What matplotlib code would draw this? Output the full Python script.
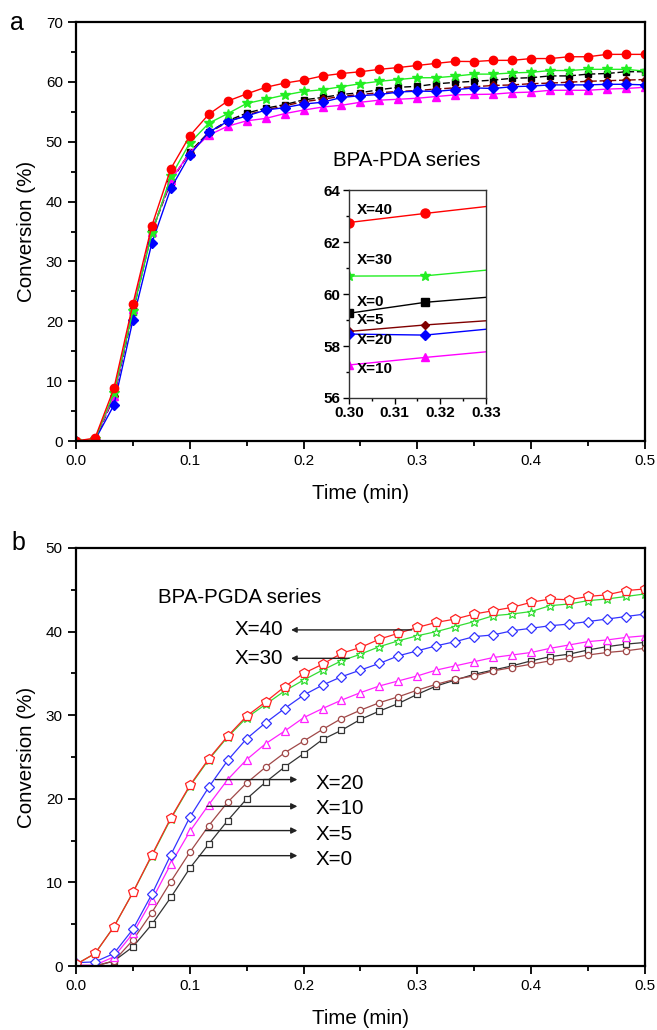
import matplotlib
matplotlib.use("Agg")
import matplotlib.pyplot as plt
from matplotlib.ticker import MultipleLocator

plt.rcParams['font.family'] = ['Liberation Sans', 'DejaVu Sans']

# ---------------- data ----------------
time_min = [0.0, 0.0167, 0.0333, 0.05, 0.0667, 0.0833, 0.1, 0.1167, 0.1333, 0.15,
            0.1667, 0.1833, 0.2, 0.2167, 0.2333, 0.25, 0.2667, 0.2833, 0.3, 0.3167,
            0.3333, 0.35, 0.3667, 0.3833, 0.4, 0.4167, 0.4333, 0.45, 0.4667, 0.4833, 0.5]

# (a) BPA-PDA series
pda_labels = ['X=0', 'X=5', 'X=10', 'X=20', 'X=30', 'X=40']
pda_x0 = [0, 0.2, 7.3, 21.5, 35.0, 43.3, 48.3, 51.6, 53.5, 54.8, 55.6, 56.2, 57.0, 57.4, 57.9,
          58.2, 58.7, 59.1, 59.26, 59.68, 59.92, 60.1, 60.3, 60.6, 60.7, 61.0, 61.0, 61.3, 61.4, 61.7, 61.7]
pda_x5 = [0, 0.2, 7.5, 22.0, 35.2, 43.5, 48.2, 51.5, 53.3, 54.5, 55.3, 56.0, 56.7, 57.1, 57.6,
          57.9, 58.2, 58.4, 58.56, 58.81, 59.01, 59.2, 59.4, 59.5, 59.7, 59.8, 59.95, 60.1, 60.2, 60.3, 60.4]
pda_x10 = [0, 0.3, 7.5, 22.0, 35.0, 43.6, 48.2, 51.1, 52.6, 53.5, 53.9, 54.7, 55.3, 55.8, 56.1,
           56.6, 56.95, 57.1, 57.27, 57.56, 57.83, 57.9, 57.95, 58.2, 58.3, 58.6, 58.6, 58.6, 58.8, 58.9, 59.1]
pda_x20 = [0, 0.2, 6.0, 20.2, 33.1, 42.2, 47.8, 51.6, 53.4, 54.3, 55.3, 55.7, 56.3, 56.6, 57.4,
           57.7, 57.9, 58.3, 58.46, 58.42, 58.7, 59.0, 58.9, 59.2, 59.3, 59.5, 59.5, 59.5, 59.6, 59.6, 59.5]
pda_x30 = [0, 0.3, 8.0, 21.7, 34.7, 44.2, 49.8, 53.1, 54.7, 56.4, 57.1, 57.8, 58.4, 58.7, 59.2,
           59.7, 60.1, 60.4, 60.69, 60.7, 60.97, 61.3, 61.3, 61.5, 61.6, 61.9, 61.9, 62.1, 62.1, 62.1, 61.8]
pda_x40 = [0, 0.5, 8.8, 22.9, 36.0, 45.5, 51.0, 54.6, 56.8, 58.0, 59.1, 59.8, 60.3, 61.0, 61.4,
           61.7, 62.1, 62.4, 62.75, 63.1, 63.43, 63.4, 63.6, 63.6, 63.9, 63.9, 64.2, 64.2, 64.6, 64.6, 64.6]

# (b) BPA-PGDA series
pgda_labels = ['X=0', 'X=5', 'X=10', 'X=20', 'X=30', 'X=40']
pgda_x0 = [0, 0, 0.6, 2.3, 5.0, 8.2, 11.7, 14.6, 17.4, 20.0, 22.0, 23.8, 25.4, 27.1, 28.2,
           29.5, 30.5, 31.4, 32.5, 33.5, 34.2, 34.9, 35.4, 35.9, 36.5, 37.0, 37.3, 37.8, 38.2, 38.5, 38.7]
pgda_x5 = [0, 0, 0.6, 3.1, 6.4, 10.1, 13.6, 16.8, 19.6, 21.9, 23.8, 25.5, 26.9, 28.3, 29.6,
           30.6, 31.5, 32.2, 33.0, 33.7, 34.3, 34.7, 35.3, 35.7, 36.1, 36.5, 36.8, 37.2, 37.5, 37.7, 38.0]
pgda_x10 = [0.1, 0.1, 1.1, 3.9, 7.9, 12.2, 16.1, 19.3, 22.3, 24.7, 26.6, 28.1, 29.7, 30.8, 31.8,
            32.7, 33.5, 34.1, 34.7, 35.4, 35.9, 36.4, 36.9, 37.2, 37.5, 38.0, 38.4, 38.8, 39.0, 39.3, 39.5]
pgda_x20 = [0.4, 0.5, 1.5, 4.4, 8.6, 13.3, 17.8, 21.4, 24.6, 27.2, 29.1, 30.8, 32.4, 33.6, 34.6,
            35.4, 36.2, 37.1, 37.7, 38.3, 38.8, 39.4, 39.6, 40.1, 40.4, 40.7, 40.9, 41.2, 41.5, 41.8, 42.1]
pgda_x30 = [0.2, 1.5, 4.7, 8.8, 13.2, 17.6, 21.5, 24.7, 27.4, 29.7, 31.3, 32.9, 34.2, 35.4, 36.5,
            37.3, 38.2, 38.9, 39.5, 40.0, 40.6, 41.2, 41.9, 42.1, 42.4, 43.1, 43.3, 43.7, 43.9, 44.2, 44.5]
pgda_x40 = [0.2, 1.5, 4.7, 8.8, 13.3, 17.7, 21.6, 24.8, 27.5, 29.9, 31.6, 33.4, 35.0, 36.1, 37.4,
            38.1, 39.1, 39.8, 40.5, 41.1, 41.5, 42.1, 42.5, 42.9, 43.5, 43.9, 43.8, 44.2, 44.4, 44.9, 45.1]

x_ticks = [0.0, 0.1, 0.2, 0.3, 0.4, 0.5]
inset_x_ticks = [0.30, 0.31, 0.32, 0.33]
inset_y_ticks = [56, 58, 60, 62, 64]

# ---------------- styles ----------------
pda_series = [pda_x0, pda_x5, pda_x10, pda_x20, pda_x30, pda_x40]
pda_styles = [
    dict(color='black', marker='s', ls=(0, (5, 2)), ms=5),
    dict(color='#800000', marker='D', ls=(0, (5, 2)), ms=4),
    dict(color='#ff00ff', marker='^', ls='-', ms=5.5),
    dict(color='#0000ff', marker='D', ls='-', ms=5),
    dict(color='#22ee22', marker='*', ls='-', ms=7),
    dict(color='#ff0000', marker='o', ls='-', ms=6),
]
pgda_series = [pgda_x0, pgda_x5, pgda_x10, pgda_x20, pgda_x30, pgda_x40]
pgda_styles = [
    dict(color='#333333', marker='s', ms=4.5),
    dict(color='#a04848', marker='o', ms=4.5),
    dict(color='#ff22ff', marker='^', ms=6),
    dict(color='#3333ff', marker='D', ms=5.5),
    dict(color='#33dd33', marker='*', ms=6.5),
    dict(color='#ff2222', marker='p', ms=7),
]

TXT = 14.8

fig = plt.figure(figsize=(6.57, 10.30), dpi=100)
ax1 = fig.add_axes([0.1157, 0.5718, 0.866, 0.4068])
ax2 = fig.add_axes([0.1157, 0.0621, 0.866, 0.4059])


def style_axes(ax, ymax, ymajor, yminor):
    ax.set_xlim(0, 0.5)
    ax.set_ylim(0, ymax)
    ax.set_xticks(x_ticks)
    ax.xaxis.set_minor_locator(MultipleLocator(0.05))
    ax.yaxis.set_major_locator(MultipleLocator(ymajor))
    ax.yaxis.set_minor_locator(MultipleLocator(yminor))
    ax.tick_params(which='both', direction='out', top=False, right=False, width=1.3)
    ax.tick_params(which='major', length=6, labelsize=11)
    ax.tick_params(which='minor', length=3.5)
    for s in ax.spines.values():
        s.set_linewidth(1.6)
    ax.set_xlabel('Time (min)', fontsize=TXT, labelpad=11)
    ax.set_ylabel('Conversion (%)', fontsize=TXT, labelpad=7)


# ---- panel a ----
for y, st in zip(pda_series, pda_styles):
    ax1.plot(time_min, y, color=st['color'], marker=st['marker'], ls=st['ls'],
             ms=st['ms'], lw=1.0, mec=st['color'], mfc=st['color'])
style_axes(ax1, 70, 10, 5)
ax1.set_xticklabels(['0.0', '0.1', '0.2', '0.3', '0.4', '0.5'])
ax1.text(0.226, 46.8, 'BPA-PDA series', fontsize=TXT, va='center', ha='left')
fig.text(0.015, 0.978, 'a', fontsize=18, va='center', ha='left')

# inset
axi = fig.add_axes([0.531, 0.6136, 0.2085, 0.2019])
for y, st in zip(pda_series, pda_styles):
    axi.plot(time_min, y, color=st['color'], marker=st['marker'], ls='-',
             ms=st['ms'] + 0.5, lw=1.0, mec=st['color'], mfc=st['color'])
axi.set_xlim(0.30, 0.33)
axi.set_ylim(56, 64)
axi.set_xticks(inset_x_ticks)
axi.set_xticklabels(['0.30', '0.31', '0.32', '0.33'])
axi.set_yticks(inset_y_ticks)
axi.xaxis.set_minor_locator(MultipleLocator(0.005))
axi.yaxis.set_minor_locator(MultipleLocator(1))
axi.tick_params(which='both', direction='out', top=False, right=False, width=1.0)
axi.tick_params(which='major', length=4, labelsize=11, pad=2)
axi.tick_params(which='minor', length=2.5)
for lab in axi.get_xticklabels() + axi.get_yticklabels():
    lab.set_fontweight('bold')
for s in axi.spines.values():
    s.set_linewidth(1.0)
    s.set_color('#333333')
inset_label_pos = {'X=40': 63.23, 'X=30': 61.3, 'X=0': 59.7, 'X=5': 59.0, 'X=20': 58.23, 'X=10': 57.1}
for lab in pda_labels:
    axi.text(0.3018, inset_label_pos[lab], lab, fontsize=11, fontweight='bold',
             va='center', ha='left')

# ---- panel b ----
for y, st in zip(pgda_series, pgda_styles):
    ax2.plot(time_min, y, color=st['color'], marker=st['marker'], ls='-',
             ms=st['ms'], lw=0.9, mec=st['color'], mfc='white', mew=0.9)
style_axes(ax2, 50, 10, 5)
ax2.set_xticklabels(['0.0', '0.1', '0.2', '0.3', '0.4', '0.5'])
ax2.text(0.072, 44.1, 'BPA-PGDA series', fontsize=TXT, va='center', ha='left')
fig.text(0.017, 0.473, 'b', fontsize=18, va='center', ha='left')

# left-pointing arrows for X=40 and X=30
for lab, ylab, tail in [('X=40', 40.2, 0.295), ('X=30', 36.8, 0.24)]:
    ax2.text(0.139, ylab, lab, fontsize=TXT, va='center', ha='left')
    ax2.annotate('', xy=(0.189, ylab), xytext=(tail, ylab),
                 arrowprops=dict(arrowstyle='-|>', color='#222222', lw=1.0,
                                 mutation_scale=8, shrinkA=0, shrinkB=0))

# right-pointing arrows for X=20, 10, 5, 0
for lab, yarr, ytxt, start in [('X=20', 22.3, 21.85, 0.1225), ('X=10', 19.1, 18.9, 0.115),
                               ('X=5', 16.2, 15.7, 0.1137), ('X=0', 13.2, 12.7, 0.108)]:
    ax2.annotate('', xy=(0.1945, yarr), xytext=(start, yarr),
                 arrowprops=dict(arrowstyle='-|>', color='#222222', lw=1.0,
                                 mutation_scale=9, shrinkA=0, shrinkB=0))
    ax2.text(0.2105, ytxt, lab, fontsize=TXT, va='center', ha='left')

fig.savefig('out.png', dpi=100)
